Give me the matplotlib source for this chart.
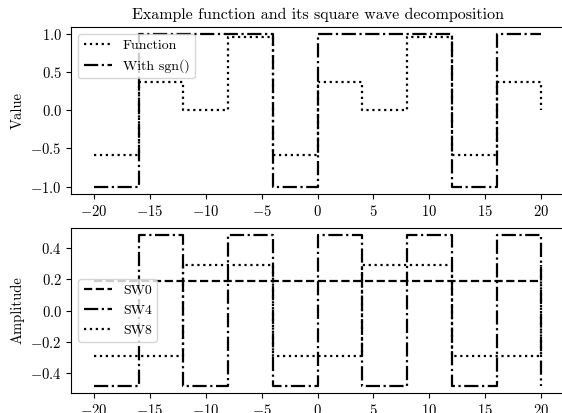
import numpy as np
import matplotlib
matplotlib.use("Agg")
import matplotlib.pyplot as plt

plt.rcParams['font.family'] = ['cmr10', 'DejaVu Serif']
plt.rcParams['mathtext.fontset'] = 'cm'
plt.rcParams['axes.formatter.use_mathtext'] = True
plt.rcParams['font.size'] = 10
plt.rcParams['xtick.labelsize'] = 10.5
plt.rcParams['ytick.labelsize'] = 10.5

# segment edges (steps-post), last point is the endpoint x=20
x = [-20, -16, -12, -8, -4, 0, 4, 8, 12, 16, 20]

func = [-0.58, 0.38, 0.0, 0.96, -0.58, 0.38, 0.0, 0.96, -0.58, 0.38, 0.0]
with_sgn = [-1, 1, 1, 1, -1, 1, 1, 1, -1, 1, 1]

sw0 = [0.19, 0.19, 0.19, 0.19, 0.19, 0.19, 0.19, 0.19, 0.19, 0.19, 0.19]
sw4 = [-0.48, 0.48, -0.48, 0.48, -0.48, 0.48, -0.48, 0.48, -0.48, 0.48, -0.48]
sw8 = [-0.29, -0.29, 0.29, 0.29, -0.29, -0.29, 0.29, 0.29, -0.29, -0.29, 0.29]

fig = plt.figure(figsize=(5.62, 4.13), dpi=100)
ax1 = fig.add_axes([0.127, 0.530, 0.876, 0.405])
ax2 = fig.add_axes([0.127, 0.048, 0.876, 0.400])

ax1.plot(x, func, "k:", drawstyle="steps-post", label="Function", lw=1.6)
ax1.plot(x, with_sgn, "k-.", drawstyle="steps-post", label="With sgn()", lw=1.6)
ax1.set_ylabel("Value", fontsize=10.5)
ax1.set_title("Example function and its square wave decomposition", fontsize=11.5)
ax1.legend(loc="upper left")
ax1.set_yticks([-1.0, -0.5, 0.0, 0.5, 1.0])

ax2.plot(x, sw0, "k--", drawstyle="steps-post", label="SW0", lw=1.6)
ax2.plot(x, sw4, "k-.", drawstyle="steps-post", label="SW4", lw=1.6)
ax2.plot(x, sw8, "k:", drawstyle="steps-post", label="SW8", lw=1.6)
ax2.set_ylabel("Amplitude", fontsize=10.5)
ax2.legend(loc="center left")
ax2.set_yticks([-0.4, -0.2, 0.0, 0.2, 0.4])

for ax in (ax1, ax2):
    ax.set_xticks([-20, -15, -10, -5, 0, 5, 10, 15, 20])

fig.savefig("out.png", dpi=100)
